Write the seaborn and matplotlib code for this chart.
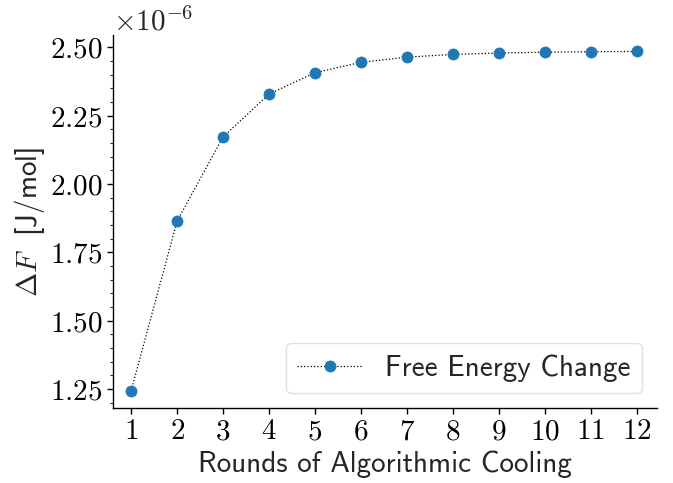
import numpy as np
import pandas as pd
import matplotlib
matplotlib.use("Agg")
import matplotlib.pyplot as plt
import seaborn as sns
from matplotlib.ticker import FuncFormatter, MultipleLocator

rounds = [1, 2, 3, 4, 5, 6, 7, 8, 9, 10, 11, 12]
delta_f = [1.243, 1.864, 2.172, 2.329, 2.407, 2.445, 2.464, 2.474, 2.479, 2.482, 2.484, 2.485]
scale = 1e-6
series_label = "Free Energy Change"
x_label = "Rounds of Algorithmic Cooling"
y_label = r"$\Delta F\ $ [J/mol]"

sns.set_style("ticks")
plt.rcParams["font.family"] = ["cmss10", "DejaVu Sans"]
plt.rcParams["mathtext.fontset"] = "cm"
plt.rcParams["axes.unicode_minus"] = False

df = pd.DataFrame({"round": rounds, "dF": np.array(delta_f) * scale})

fig = plt.figure(figsize=(6.73, 4.83), dpi=100)
ax = fig.add_axes([0.1675, 0.1553, 0.8083, 0.7722])

sns.lineplot(data=df, x="round", y="dF", ax=ax, color="black", linestyle=":",
             linewidth=0.9, marker="o", markersize=8,
             markerfacecolor="#1f77b4", markeredgecolor="#1f77b4", markeredgewidth=0.5,
             label=series_label)

ax.set_xlim(0.6, 12.43)
ax.set_ylim(1.18e-6, 2.545e-6)
ax.set_xticks(rounds)
ax.xaxis.set_major_formatter(FuncFormatter(lambda v, p: f"${int(round(v))}$"))
ax.yaxis.set_major_locator(MultipleLocator(0.25e-6))
ax.yaxis.set_minor_locator(MultipleLocator(0.05e-6))
ax.yaxis.set_major_formatter(FuncFormatter(lambda v, p: f"${v/scale:.2f}$"))
ax.tick_params(axis="both", labelsize=21, direction="out", length=4, width=1, colors="black")
ax.tick_params(axis="y", which="minor", length=2.5, width=0.8)

ax.text(0.0, 0.995, r"$\times10^{-6}$", transform=ax.transAxes, ha="left", va="bottom", fontsize=21)

ax.set_xlabel(x_label, fontsize=21, labelpad=4)
ax.set_ylabel(y_label, fontsize=21, labelpad=2)

for s in ["top", "right"]:
    ax.spines[s].set_visible(False)
for s in ["left", "bottom"]:
    ax.spines[s].set_linewidth(1.0)
    ax.spines[s].set_color("black")

leg = ax.legend(loc="lower right", fontsize=21, frameon=True, fancybox=True,
                handlelength=2.2, borderpad=0.4)
leg.get_frame().set_edgecolor("#d9d9d9")
leg.get_frame().set_linewidth(1.0)

fig.savefig("out.png", dpi=100)
